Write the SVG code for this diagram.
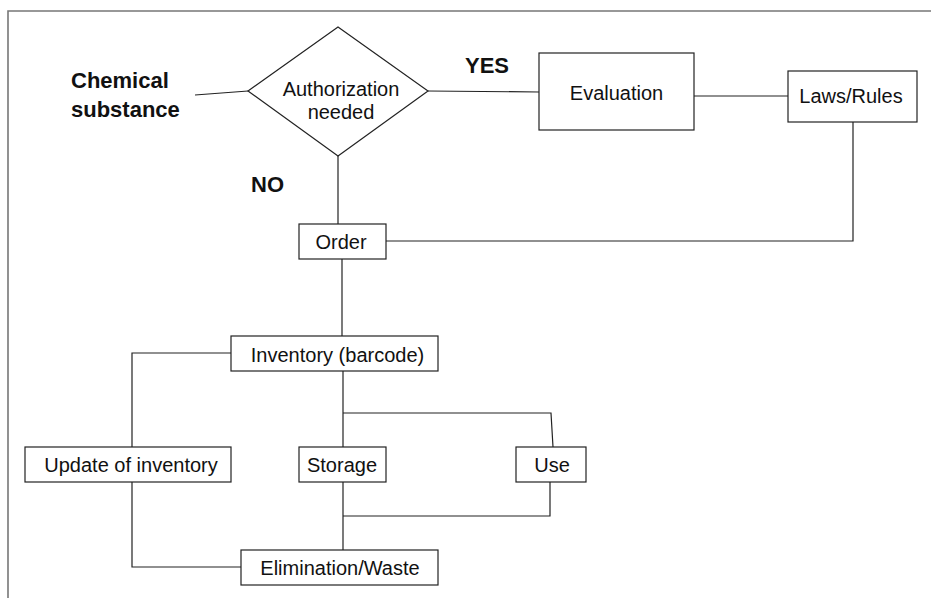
<svg xmlns="http://www.w3.org/2000/svg" width="931" height="598" viewBox="0 0 931 598">
<style>
.box{fill:#fff;stroke:#222;stroke-width:1.2}
.ln{fill:none;stroke:#222;stroke-width:1.2}
.frame{fill:none;stroke:#777;stroke-width:1.6}
.t{font-family:"Liberation Sans",Arial,sans-serif;font-size:20px;fill:#111;text-anchor:middle}
.b{font-family:"Liberation Sans",Arial,sans-serif;font-size:22px;font-weight:bold;fill:#111}
</style>
<rect x="0" y="0" width="931" height="598" fill="#fff"/>
<path class="frame" d="M8,598 V11 H931"/>
<g id="connectors">
<path class="ln" d="M195,95 L248,91"/>
<path class="ln" d="M428,91 L539,92"/>
<path class="ln" d="M694,96 H788"/>
<path class="ln" d="M853,122 V241 H386"/>
<path class="ln" d="M338,156 V224"/>
<path class="ln" d="M342,259 V336"/>
<path class="ln" d="M231,353 H132 V447"/>
<path class="ln" d="M343,371 V447"/>
<path class="ln" d="M343,413 H551 L553,447"/>
<path class="ln" d="M343,482 V550"/>
<path class="ln" d="M550,482 V516 H343"/>
<path class="ln" d="M132,482 V567 H241"/>
</g>
<g id="chemical">
<text class="b" x="71" y="88">Chemical</text>
<text class="b" x="71" y="117">substance</text>
</g>
<g id="authorization">
<polygon class="box" points="338,27 428,91 338,156 248,91"/>
<text class="t" x="341" y="96">Authorization</text>
<text class="t" x="341" y="119">needed</text>
</g>
<g id="yes"><text class="b" x="465" y="73">YES</text></g>
<g id="no"><text class="b" x="251" y="192">NO</text></g>
<g id="evaluation">
<rect class="box" x="539" y="53" width="155" height="77"/>
<text class="t" x="616.5" y="100">Evaluation</text>
</g>
<g id="laws">
<rect class="box" x="788" y="71" width="129" height="51"/>
<text class="t" x="851" y="103">Laws/Rules</text>
</g>
<g id="order">
<rect class="box" x="299" y="224" width="87" height="35"/>
<text class="t" x="341" y="249">Order</text>
</g>
<g id="inventory">
<rect class="box" x="231" y="336" width="207" height="35"/>
<text class="t" x="337.5" y="362">Inventory (barcode)</text>
</g>
<g id="update">
<rect class="box" x="25" y="447" width="206" height="35"/>
<text class="t" x="131" y="472">Update of inventory</text>
</g>
<g id="storage">
<rect class="box" x="299" y="447" width="87" height="35"/>
<text class="t" x="342" y="472">Storage</text>
</g>
<g id="use">
<rect class="box" x="516" y="447" width="70" height="35"/>
<text class="t" x="552" y="472">Use</text>
</g>
<g id="elimination">
<rect class="box" x="241" y="550" width="197" height="35"/>
<text class="t" x="340" y="575">Elimination/Waste</text>
</g>
</svg>
